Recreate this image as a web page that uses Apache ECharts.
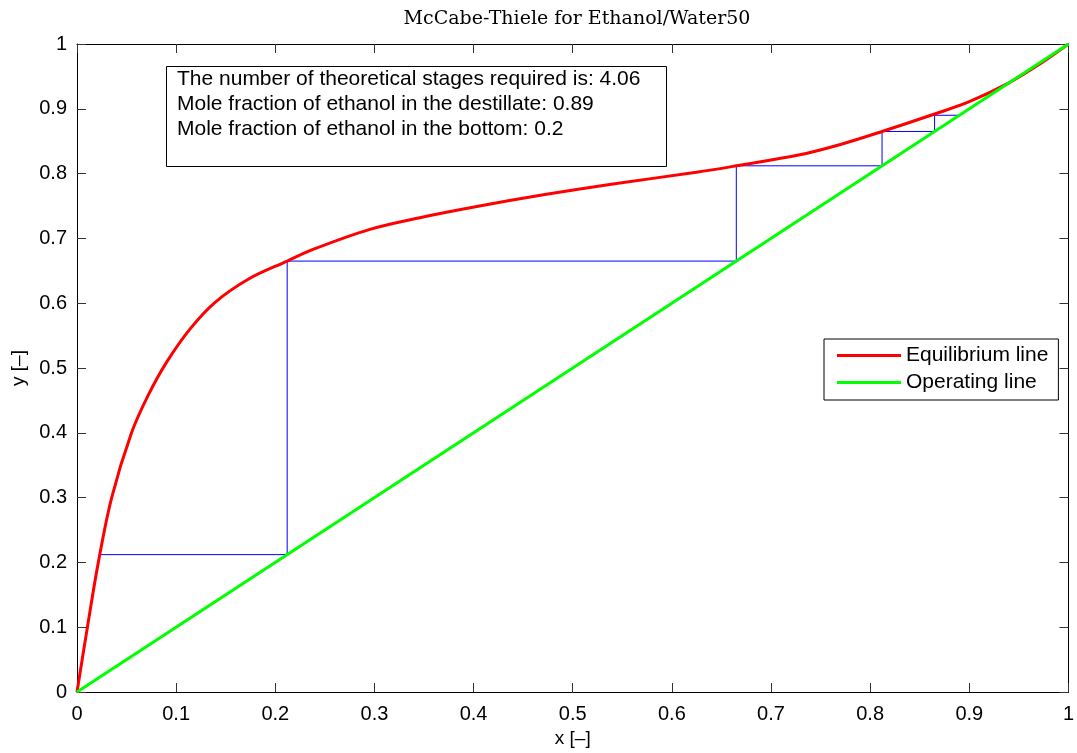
<!DOCTYPE html>
<html>
<head>
<meta charset="utf-8">
<script src="https://cdn.jsdelivr.net/npm/echarts@6/dist/echarts.min.js"></script>
<style>
  html, body { margin: 0; padding: 0; background: #fff; }
  #chart { width: 1077px; height: 753px; }
</style>
</head>
<body>
<div id="chart"></div>
<script>
// equilibrium curve
const eqX = [0, 0.0105, 0.0215, 0.035, 0.055, 0.0715, 0.0904, 0.1139, 0.139, 0.1727, 0.212, 0.238, 0.2954,
  0.3458, 0.406, 0.4735, 0.5406, 0.6247, 0.665, 0.729, 0.77, 0.812, 0.865, 0.9, 0.94, 0.97, 1]
const eqY = [0, 0.1, 0.2, 0.3, 0.4, 0.457, 0.509, 0.56, 0.601, 0.637, 0.665, 0.683, 0.714,
  0.732, 0.75, 0.768, 0.784, 0.802, 0.812, 0.829, 0.845, 0.865, 0.892, 0.911, 0.94, 0.968, 1]

// operating line
const opX = [0, 1]
const opY = [0, 1]

// stage steps
const stepX = [0.89, 0.865, 0.865, 0.812, 0.812, 0.665, 0.665, 0.212, 0.212, 0.022]
const stepY = [0.89, 0.89, 0.865, 0.865, 0.812, 0.812, 0.665, 0.665, 0.212, 0.212]

const infoLines = [
  'The number of theoretical stages required is: 4.06',
  'Mole fraction of ethanol in the destillate: 0.89',
  'Mole fraction of ethanol in the bottom: 0.2'
]

const zip = (xs, ys) => xs.map((x, i) => [x, ys[i]])
const fmt = v => String(+v.toFixed(1))
const font = 'Liberation Sans'

const axisBase = {
  type: 'value',
  min: 0,
  max: 1,
  interval: 0.1,
  splitLine: { show: false },
  axisLine: { show: true, onZero: false, lineStyle: { color: '#000', width: 1 } },
  axisTick: { show: true, inside: true, length: 9, lineStyle: { color: '#333' } }
}

const chart = echarts.init(document.getElementById('chart'))
chart.setOption({
  animation: false,
  title: {
    text: 'McCabe-Thiele for Ethanol/Water50',
    left: 572,
    textAlign: 'center',
    top: 5,
    textStyle: { fontFamily: 'DejaVu Serif', fontSize: 19, fontWeight: 'normal', color: '#000' }
  },
  grid: { left: 77, right: 8, top: 44, bottom: 59 },
  legend: {
    data: ['Equilibrium line', 'Operating line'],
    orient: 'vertical',
    left: 824,
    top: 339,
    padding: [6, 10, 7, 13],
    itemGap: 6,
    itemWidth: 64,
    itemHeight: 3,
    icon: 'rect',
    borderColor: '#000',
    borderWidth: 1,
    backgroundColor: '#fff',
    textStyle: { fontFamily: font, fontSize: 21, lineHeight: 21, color: '#000' }
  },
  xAxis: [
    Object.assign({}, axisBase, {
      position: 'bottom',
      name: 'x [–]',
      nameLocation: 'middle',
      nameGap: 37,
      nameTextStyle: { fontFamily: font, fontSize: 19, color: '#000' },
      axisLabel: { margin: 12, formatter: fmt, fontFamily: font, fontSize: 20, color: '#000' }
    }),
    Object.assign({}, axisBase, { position: 'top', axisLabel: { show: false } })
  ],
  yAxis: [
    Object.assign({}, axisBase, {
      position: 'left',
      name: 'y [–]',
      nameLocation: 'middle',
      nameGap: 48,
      nameTextStyle: { fontFamily: font, fontSize: 19, color: '#000' },
      axisLabel: { margin: 10, formatter: fmt, fontFamily: font, fontSize: 20, color: '#000' }
    }),
    Object.assign({}, axisBase, { position: 'right', axisLabel: { show: false } })
  ],
  graphic: [
    {
      type: 'rect',
      shape: { x: 166.5, y: 66.5, width: 500, height: 100 },
      style: { fill: '#fff', stroke: '#000', lineWidth: 1 },
      z: 10
    }
  ].concat(infoLines.map((t, i) => ({
    type: 'text',
    x: 177,
    y: 79 + i * 25,
    style: { text: t, fontFamily: font, fontSize: 21, fill: '#000', verticalAlign: 'middle' },
    z: 11
  }))),
  series: [
    {
      name: 'Stages',
      type: 'line',
      data: zip(stepX, stepY),
      symbol: 'none',
      lineStyle: { color: '#0000ff', width: 1 },
      z: 2
    },
    {
      name: 'Equilibrium line',
      type: 'line',
      data: zip(eqX, eqY),
      symbol: 'none',
      smooth: 0.35,
      color: '#ff0000',
      lineStyle: { color: '#ff0000', width: 3 },
      z: 3
    },
    {
      name: 'Operating line',
      type: 'line',
      data: zip(opX, opY),
      symbol: 'none',
      color: '#00ff00',
      lineStyle: { color: '#00ff00', width: 3 },
      z: 4
    }
  ]
})
</script>
</body>
</html>
